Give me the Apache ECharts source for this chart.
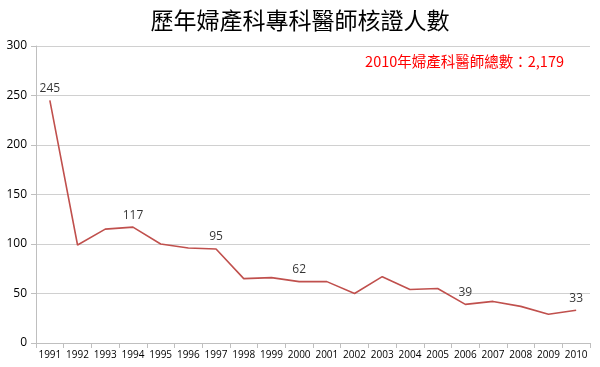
<!DOCTYPE html>
<html><head><meta charset="utf-8">
<script src="https://cdn.jsdelivr.net/npm/echarts@6/dist/echarts.min.js"></script>
<style>html,body{margin:0;padding:0;background:#fff}#c{width:600px;height:367px}</style>
</head><body><div id="c"></div>
<script>
const titleText = '歷年婦產科專科醫師核證人數';
const noteText = '2010年婦產科醫師總數：2,179';
const years = ['1991','1992','1993','1994','1995','1996','1997','1998','1999','2000','2001','2002','2003','2004','2005','2006','2007','2008','2009','2010'];
const counts = [245,99,115,117,100,96,95,65,66,62,62,50,67,54,55,39,42,37,29,33];
const labeledYears = ['1991','1994','1997','2000','2006','2010'];

const chart = echarts.init(document.getElementById('c'));
chart.setOption({
  animation: false,
  title: [{
    text: titleText, left: 'center', top: 4,
    textStyle: {fontFamily: 'Noto Sans CJK TC', fontSize: 23, fontWeight: 'normal', color: '#000'}
  }, {
    text: noteText, right: 31, top: 49,
    textStyle: {fontFamily: 'Noto Sans CJK TC', fontSize: 14.5, fontWeight: 'normal', color: '#ff0000'}
  }],
  grid: {left: 36, right: 10, top: 46, bottom: 24},
  xAxis: {
    type: 'category', data: years, boundaryGap: true,
    axisLine: {lineStyle: {color: '#bfbfbf'}},
    axisTick: {show: true, alignWithLabel: false, length: 5, lineStyle: {color: '#bfbfbf'}},
    axisLabel: {color: '#000', fontSize: 10, fontFamily: 'Open Sans', margin: 7, interval: 0}
  },
  yAxis: {
    type: 'value', min: 0, max: 300, interval: 50,
    axisLine: {show: true, lineStyle: {color: '#bfbfbf'}},
    axisTick: {show: true, length: 5, lineStyle: {color: '#bfbfbf'}},
    axisLabel: {color: '#000', fontSize: 12, fontFamily: 'Open Sans', margin: 9},
    splitLine: {lineStyle: {color: '#d0d0d0'}}
  },
  series: [{
    type: 'line', data: counts,
    symbol: 'none',
    lineStyle: {color: '#c0504d', width: 1.6},
    itemStyle: {color: '#c0504d'}
  }, {
    type: 'scatter',
    data: counts.map((v, i) => labeledYears.includes(years[i]) ? v : null),
    symbolSize: 0,
    itemStyle: {color: 'transparent'},
    label: {show: true, position: 'top', distance: 6, color: '#000', fontSize: 12, fontFamily: 'Open Sans'}
  }]
});
</script></body></html>
